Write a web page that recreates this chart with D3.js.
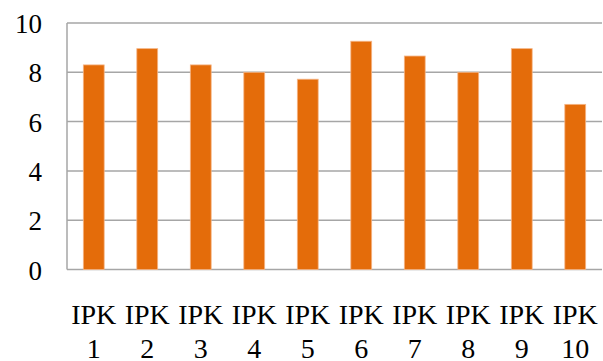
<!DOCTYPE html>
<html><head><meta charset="utf-8">
<script src="https://cdn.jsdelivr.net/npm/d3@7"></script>
<style>body{margin:0;background:#fff}svg{display:block}</style>
</head><body><svg id="c" width="603" height="361"></svg>
<script>
const categories = ["IPK 1","IPK 2","IPK 3","IPK 4","IPK 5","IPK 6","IPK 7","IPK 8","IPK 9","IPK 10"];
const values = [8.3, 8.96, 8.3, 8.0, 7.72, 9.26, 8.66, 8.0, 8.96, 6.7];
const yTicks = [0, 2, 4, 6, 8, 10];

(function () {
document.fonts.check("27px 'Liberation Serif'");
document.fonts.check("28px 'Liberation Serif'");
const svg = d3.select("#c");
const pLeft = 67, pRight = 602, pTop = 23, pBottom = 269.5;
const x = d3.scaleBand().domain(categories).range([pLeft, pRight]).paddingInner(0.61).paddingOuter(0.305);
const y = d3.scaleLinear().domain([0, 10]).range([pBottom, pTop]);
const FONT = "'Liberation Serif'";

// gridlines
svg.append("g").selectAll("line").data(yTicks).join("line")
  .attr("x1", pLeft).attr("x2", pRight)
  .attr("y1", d => y(d)).attr("y2", d => y(d))
  .attr("stroke", "#a6a6a6").attr("stroke-width", 1.5);
// y axis line
svg.append("line").attr("x1", pLeft).attr("x2", pLeft).attr("y1", pTop).attr("y2", pBottom)
  .attr("stroke", "#a6a6a6").attr("stroke-width", 1.5);

// y labels
svg.append("g").selectAll("text").data(yTicks).join("text")
  .attr("x", 42).attr("y", d => y(d) + 10)
  .attr("text-anchor", "end")
  .style("font-family", FONT).attr("font-size", 27).attr("fill", "#000")
  .text(d => d);

// bars
svg.append("g").selectAll("rect").data(values).join("rect")
  .attr("x", (d, i) => x(categories[i]))
  .attr("width", x.bandwidth())
  .attr("y", d => y(d))
  .attr("height", d => y(0) - y(d))
  .attr("fill", "#e46c0a")
  .attr("stroke", "#f5b586").attr("stroke-width", 0.8);

// x labels: two lines each, as separate text elements
categories.forEach(function (d) {
  const parts = d.split(" ");
  const cx = x(d) + x.bandwidth() / 2;
  parts.forEach(function (p, j) {
    svg.append("text").attr("x", cx).attr("y", 324 + j * 34)
      .attr("text-anchor", "middle")
      .style("font-family", FONT).attr("font-size", 28).attr("fill", "#000")
      .text(p);
  });
});
svg.selectAll("text").each(function () { this.getComputedTextLength(); });
})();
</script></body></html>
